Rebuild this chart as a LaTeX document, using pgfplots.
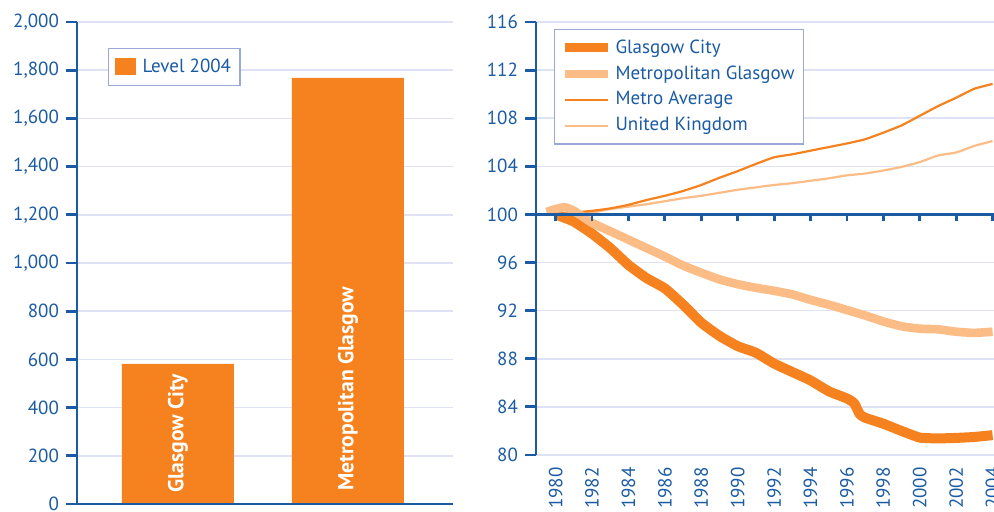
\documentclass[border=0pt]{standalone}
\usepackage{pgfplots}
\pgfplotsset{compat=1.18}
\usepackage{fontspec}
\setmainfont{PT Sans}
\definecolor{axblue}{HTML}{1B5BA3}
\definecolor{txtblue}{HTML}{1B5BA3}
\definecolor{gridc}{HTML}{DFE2F3}
\definecolor{legc}{HTML}{9AA8D8}
\definecolor{dorange}{HTML}{F5821F}
\definecolor{lorange}{HTML}{FBBC86}

\pgfplotstableread{
x y
1980 100.0
1981 99.4
1982 98.4
1983 97.2
1984 95.8
1985 94.7
1986 93.85
1987 92.5
1988 91.0
1989 89.9
1990 89.05
1991 88.5
1992 87.6
1993 86.9
1994 86.2
1995 85.3
1996 84.7
1996.4 84.3
1996.7 83.4
1997 83.1
1998 82.6
1999 82.0
2000 81.45
2001 81.38
2002 81.42
2003 81.5
2004 81.65
}\glasgowcity

\pgfplotstableread{
x y
1979.5 100.2
1980 100.45
1980.5 100.6
1981 100.3
1982 99.3
1983 98.6
1984 97.9
1985 97.2
1986 96.5
1987 95.75
1988 95.15
1989 94.6
1990 94.2
1991 93.9
1992 93.65
1993 93.35
1994 92.9
1995 92.5
1996 92.05
1997 91.6
1998 91.1
1999 90.7
2000 90.5
2001 90.45
2002 90.25
2003 90.15
2004 90.25
}\metroglasgow

\pgfplotstableread{
x y
1980 100.0
1981 100.15
1982 100.3
1983 100.5
1984 100.8
1985 101.2
1986 101.55
1987 101.95
1988 102.45
1989 103.05
1990 103.6
1991 104.2
1992 104.75
1993 105.0
1994 105.3
1995 105.6
1996 105.9
1997 106.25
1998 106.8
1999 107.4
2000 108.2
2001 109.0
2002 109.7
2003 110.45
2004 110.85
}\metroavg

\pgfplotstableread{
x y
1980 100.0
1981 100.0
1982 100.15
1983 100.45
1984 100.65
1985 100.85
1986 101.1
1987 101.35
1988 101.55
1989 101.8
1990 102.05
1991 102.25
1992 102.45
1993 102.6
1994 102.8
1995 103.0
1996 103.25
1997 103.4
1998 103.65
1999 103.95
2000 104.35
2001 104.9
2002 105.15
2003 105.7
2004 106.1
}\uk

\pgfplotstableread{
x y
0 581
1 1768
}\bars

\pgfplotsset{
  myax/.style={
    scale only axis,
    axis y line*=left,
    tick style={axblue, line width=1.4pt},
    major tick length=5.5pt,
    tick align=outside,
    ymajorgrids,
    grid style={gridc, line width=0.8pt},
    ticklabel style={font=\fontsize{9.5}{11}\selectfont, text=txtblue},
    /pgf/number format/assume math mode=true,
    scaled y ticks=false,
    legend cell align=left,
    legend style={draw=legc, line width=0.7pt, font=\fontsize{9.5}{11}\selectfont, text=txtblue,
      inner xsep=3pt, inner ysep=3.5pt, nodes={inner sep=1.5pt}},
  }
}

\begin{document}
\begin{tikzpicture}
\path[use as bounding box] (0pt,0pt) rectangle (497pt,256pt);

\begin{axis}[myax, at={(38.5pt,4pt)}, anchor=south west, width=188pt, height=241pt,
  axis x line*=bottom, xmin=-0.594, xmax=1.618, ymin=0, ymax=2000,
  axis line style={axblue, line width=1.4pt},
  ytick={0,200,...,2000}, xtick=\empty,
  ybar, bar width=56pt,
  legend style={at={(0.082,0.946)}, anchor=north west, inner xsep=3pt},
  legend image code/.code={\fill[#1] (0pt,-4.25pt) rectangle (10.5pt,4.25pt);}]
\addplot[fill=dorange, draw=none] table[x=x,y=y] {\bars};
\addlegendentry{\hspace{2pt}Level 2004}
\node[rotate=90, anchor=west, text=white, font=\fontsize{10.8}{12}\selectfont\bfseries, inner sep=0pt] at ([yshift=5.5pt]axis cs:0,0) {Glasgow City};
\node[rotate=90, anchor=west, text=white, font=\fontsize{10.8}{12}\selectfont\bfseries, inner sep=0pt] at ([yshift=6.5pt]axis cs:1,0) {Metropolitan Glasgow};
\end{axis}
% bottom axis line of the left chart
\draw[axblue, line width=1.4pt] (33pt,4pt) -- (226.5pt,4pt);

\begin{axis}[myax, at={(268pt,28.5pt)}, anchor=south west, width=229pt, height=216.5pt,
  xmin=1978.92, xmax=2004.08, ymin=80, ymax=116,
  ytick={80,84,...,116},
  axis x line*=bottom,
  axis line style={axblue, line width=1.4pt},
  x axis line style={draw=none},
  xtick={1980,1982,...,2004}, x tick style={draw=none},
  xticklabel style={rotate=90, anchor=east, inner sep=0.5pt, /pgf/number format/1000 sep={}},
  legend style={at={(0.039,0.984)}, anchor=north west, row sep=1.7pt},
  legend image code/.code={\draw[#1] (0pt,0pt) -- (21.5pt,0pt);}]
\addlegendimage{dorange, line width=4.5pt}
\addlegendentry{Glasgow City}
\addlegendimage{lorange, line width=4.2pt}
\addlegendentry{Metropolitan Glasgow}
\addlegendimage{dorange, line width=1.1pt}
\addlegendentry{Metro Average}
\addlegendimage{lorange, line width=1.1pt}
\addlegendentry{United Kingdom}
\addplot[forget plot, lorange, line width=1.1pt, smooth, tension=0.3] table[x=x,y=y] {\uk};
\addplot[forget plot, dorange, line width=1.1pt, smooth, tension=0.3] table[x=x,y=y] {\metroavg};
\addplot[forget plot, dorange, line width=5pt, smooth, tension=0.3, line join=round] table[x=x,y=y] {\glasgowcity};
\addplot[forget plot, lorange, line width=4.3pt, smooth, tension=0.3, line join=round] table[x=x,y=y] {\metroglasgow};
\end{axis}

\begin{axis}[scale only axis, at={(268pt,148.78pt)}, anchor=south west, width=229pt, height=96.22pt,
  xmin=1978.92, xmax=2004.08, ymin=100, ymax=116,
  axis x line*=bottom, axis y line=none,
  axis line style={axblue, line width=1.4pt},
  tick style={axblue, line width=1.4pt},
  major tick length=3.5pt, tick align=outside,
  xtick={1980,1982,...,2004}, xticklabels={}, ytick=\empty]
\end{axis}
\end{tikzpicture}
\end{document}
